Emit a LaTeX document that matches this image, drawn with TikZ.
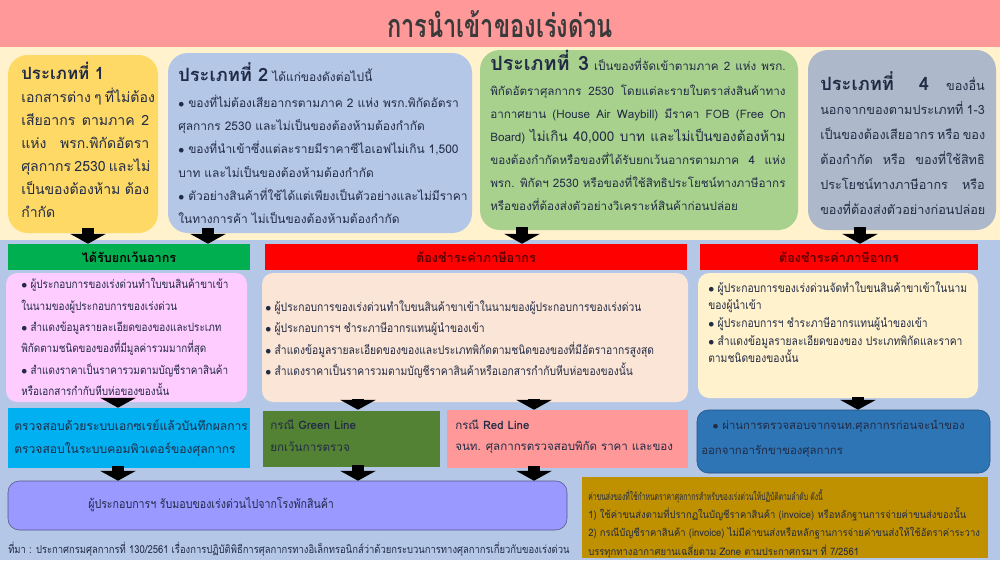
\documentclass[tikz,border=0pt]{standalone}
\usepackage{fontspec}
\newfontfamily\thai[Script=Thai]{Loma}
\newfontfamily\thaic[Script=Thai,FakeStretch=0.86]{Loma}
\newfontfamily\thaib[Script=Thai,FakeStretch=0.92]{Loma}
\newfontfamily\thaicc[Script=Thai,FakeStretch=0.66]{Loma}
\newfontfamily\thaiT[Script=Thai,FakeStretch=0.73]{Loma}
\usetikzlibrary{arrows.meta,fit,calc}
\definecolor{titlebg}{HTML}{FF9999}
\definecolor{creambg}{HTML}{FFF2CC}
\definecolor{bluebg}{HTML}{B4C7E7}
\definecolor{cyel}{HTML}{FFD966}
\definecolor{cblu}{HTML}{B4C7E7}
\definecolor{cgrn}{HTML}{A9D18E}
\definecolor{cgry}{HTML}{ADB9CA}
\definecolor{hgrn}{HTML}{00B050}
\definecolor{hred}{HTML}{FF0000}
\definecolor{cpink}{HTML}{FFCCFF}
\definecolor{cpeach}{HTML}{FBE5D6}
\definecolor{ccream}{HTML}{FFF2CC}
\definecolor{ccyan}{HTML}{00B0F0}
\definecolor{cgline}{HTML}{548235}
\definecolor{crline}{HTML}{FF9999}
\definecolor{cdblue}{HTML}{2E75B6}
\definecolor{clav}{HTML}{9999FF}
\definecolor{cgold}{HTML}{BF9000}
\definecolor{txt}{HTML}{222B45}
\definecolor{ttl}{HTML}{3A3A3A}
\definecolor{hdred}{HTML}{5A0000}
\newcommand\fs[2]{\fontsize{#1}{#2}\selectfont}
\newcommand\bul{$\bullet$\ }
\newcommand\jl[2]{\makebox[#1][s]{#2}}
\lineskiplimit=-100pt
\begin{document}
\begin{tikzpicture}[x=0.025cm,y=-0.025cm,
  box/.style={inner sep=0pt},
  tx/.style={inner sep=0pt, align=left, anchor=north west, text=txt},
  rbig/.style={rounded corners=14pt},
  rsml/.style={rounded corners=8pt},
  hdr/.style={inner sep=0pt, anchor=base, font=\thai\bfseries\fs{9}{11}},
  blk/.style={line width=8.5pt, -{Triangle[width=25pt,length=7pt]}, black}]
\useasboundingbox (0,0) rectangle (1000,560);
% backgrounds
\fill[titlebg] (0,0) rectangle (1000,47);
\fill[creambg] (0,47) rectangle (1000,240);
\fill[bluebg] (0,240) rectangle (1000,560);
\node[font=\thaiT\bfseries\fs{23}{26}, text=ttl] (title) at (500,24) {การนำเข้าของเร่งด่วน};
% top boxes
\node[box, rbig, fill=cyel, fit={(8,55)(158,233)}] (t1) {};
\node[box, rbig, fill=cblu, fit={(168,53)(472,233)}] (t2) {};
\node[box, rbig, fill=cgrn, fit={(480,50)(798,230)}] (t3) {};
\node[box, rbig, fill=cgry, fit={(808,50)(996,230)}] (t4) {};
\node[tx, font=\thai\fs{10}{16.3}] (t1x) at (21,62)
 {{\fs{12}{16.3}\bfseries ประเภทที่ 1}\\\jl{91pt}{เอกสารต่าง ๆ ที่ไม่ต้อง}\\\jl{91pt}{เสียอากร ตามภาค 2}\\\jl{91pt}{แห่ง พรก.พิกัดอัตรา}\\\jl{91pt}{ศุลกากร 2530 และไม่}\\\jl{91pt}{เป็นของต้องห้าม ต้อง}\\กำกัด};
\node[tx, font=\thai\fs{8.5}{16.6}] (t2x) at (178,62)
 {{\fs{13}{16.6}\bfseries ประเภทที่ 2} ได้แก่ของดังต่อไปนี้\\[2pt]\bul ของที่ไม่ต้องเสียอากรตามภาค 2 แห่ง พรก.พิกัดอัตรา\\ศุลกากร 2530 และไม่เป็นของต้องห้ามต้องกำกัด\\\bul ของที่นำเข้าซึ่งแต่ละรายมีราคาซีไอเอฟไม่เกิน 1,500\\บาท และไม่เป็นของต้องห้ามต้องกำกัด\\\bul ตัวอย่างสินค้าที่ใช้ได้แต่เพียงเป็นตัวอย่างและไม่มีราคา\\ในทางการค้า ไม่เป็นของต้องห้ามต้องกำกัด};
\node[tx, font=\thai\fs{8.3}{16.3}] (t3x) at (490,50)
 {\jl{210pt}{{\fs{14}{16.3}\bfseries ประเภทที่ 3} เป็นของที่จัดเข้าตามภาค 2 แห่ง พรก.}\\[1.5pt]\jl{210pt}{พิกัดอัตราศุลกากร 2530 โดยแต่ละรายใบตราส่งสินค้าทาง}\\\jl{210pt}{อากาศยาน (House Air Waybill) มีราคา FOB (Free On}\\\jl{210pt}{Board) {\fs{9.6}{16.3}ไม่เกิน 40,000 บาท และไม่เป็นของต้องห้าม}}\\\jl{210pt}{ของต้องกำกัดหรือของที่ได้รับยกเว้นอากรตามภาค 4 แห่ง}\\\jl{210pt}{พรก. พิกัดฯ 2530 หรือของที่ใช้สิทธิประโยชน์ทางภาษีอากร}\\หรือของที่ต้องส่งตัวอย่างวิเคราะห์สินค้าก่อนปล่อย};
\node[tx, font=\thai\fs{9}{17.7}] (t4x) at (820,71)
 {\jl{117pt}{{\fs{13}{17.7}\bfseries ประเภทที่ 4} ของอื่น}\\\jl{117pt}{นอกจากของตามประเภทที่ 1-3}\\\jl{117pt}{เป็นของต้องเสียอากร หรือ ของ}\\\jl{117pt}{ต้องกำกัด หรือ ของที่ใช้สิทธิ}\\\jl{117pt}{ประโยชน์ทางภาษีอากร หรือ}\\ของที่ต้องส่งตัวอย่างก่อนปล่อย};
% headers
\node[box, fill=hgrn, fit={(8,244)(250,270)}] (h1) {};
\node[box, fill=hred, fit={(265,244)(687,270)}] (h2) {};
\node[box, fill=hred, fit={(700,244)(978,270)}] (h3) {};
\node[hdr, text=black] (h1x) at (129,262) {ได้รับยกเว้นอากร};
\node[hdr, text=hdred] (h2x) at (476,262) {ต้องชำระค่าภาษีอากร};
\node[hdr, text=hdred] (h3x) at (839,262) {ต้องชำระค่าภาษีอากร};
% middle boxes
\node[box, rsml, fill=cpink, fit={(6,273)(247,402)}] (m1) {};
\node[box, rsml, fill=cpeach, fit={(262,273)(688,402)}] (m2) {};
\node[box, rsml, fill=ccream, fit={(698,273)(978,398)}] (m3) {};
\node[tx, font=\thaic\fs{8.2}{15.2}] (m1x) at (21,278)
 {\bul ผู้ประกอบการของเร่งด่วนทำใบขนสินค้าขาเข้า\\ในนามของผู้ประกอบการของเร่งด่วน\\\bul สำแดงข้อมูลรายละเอียดของของและประเภท\\พิกัดตามชนิดของของที่มีมูลค่ารวมมากที่สุด\\\bul สำแดงราคาเป็นราคารวมตามบัญชีราคาสินค้า\\หรือเอกสารกำกับหีบห่อของของนั้น};
\node[tx, font=\thaic\fs{8.5}{15.4}] (m2x) at (265,300)
 {\bul ผู้ประกอบการของเร่งด่วนทำใบขนสินค้าขาเข้าในนามของผู้ประกอบการของเร่งด่วน\\\bul ผู้ประกอบการฯ ชำระภาษีอากรแทนผู้นำของเข้า\\\bul สำแดงข้อมูลรายละเอียดของของและประเภทพิกัดตามชนิดของของที่มีอัตราอากรสูงสุด\\\bul สำแดงราคาเป็นราคารวมตามบัญชีราคาสินค้าหรือเอกสารกำกับหีบห่อของของนั้น};
\node[tx, font=\thaic\fs{8.5}{12.6}] (m3x) at (708,281)
 {\bul ผู้ประกอบการของเร่งด่วนจัดทำใบขนสินค้าขาเข้าในนาม\\ของผู้นำเข้า\\\bul ผู้ประกอบการฯ ชำระภาษีอากรแทนผู้นำของเข้า\\\bul สำแดงข้อมูลรายละเอียดของของ ประเภทพิกัดและราคา\\ตามชนิดของของนั้น};
% lower boxes
\node[box, fill=ccyan, fit={(8,408)(250,468)}] (l1) {};
\node[box, fill=cgline, draw=cblu, fit={(262,410)(440,467)}] (l2) {};
\node[box, fill=crline, fit={(447,410)(688,468)}] (l3) {};
\node[box, rsml, fill=cdblue, draw=cdblue!70!black, fit={(697,410)(990,473)}] (l4) {};
\node[tx, font=\thai\fs{8.6}{16.3}] (l1x) at (14,420)
 {ตรวจสอบด้วยระบบเอกซเรย์แล้วบันทึกผลการ\\ตรวจสอบในระบบคอมพิวเตอร์ของศุลกากร};
\node[tx, font=\thai\fs{8.3}{15.6}] (l2x) at (270,419)
 {กรณี {\bfseries Green Line}\\ยกเว้นการตรวจ};
\node[tx, font=\thai\fs{8.2}{15.6}] (l3x) at (455,419)
 {กรณี {\bfseries Red Line}\\จนท. ศุลกากรตรวจสอบพิกัด ราคา และของ};
\node[tx, font=\thai\fs{8.1}{17.7}] (l4x) at (701,420)
 {\hspace*{8pt}\bul ผ่านการตรวจสอบจากจนท.ศุลกากรก่อนจะนำของ\\ออกจากอารักขาของศุลกากร};
\node[box, rsml, fill=clav, draw=clav!55!black, fit={(8,481)(567,530)}] (b1) {};
\node[tx, anchor=west, font=\thaic\fs{8.8}{12}] (b1x) at (88,505)
 {ผู้ประกอบการฯ รับมอบของเร่งด่วนไปจากโรงพักสินค้า};
\node[box, fill=cgold, fit={(582,477)(988,558)}] (b2) {};
\node[tx, font=\thaib\fs{7.3}{13}] (b2x) at (588,489)
 {{\thaicc ค่าขนส่งของที่ใช้กำหนดราคาศุลกากรสำหรับของเร่งด่วนให้ปฏิบัติตามลำดับ ดังนี้}\\1) ใช้ค่าขนส่งตามที่ปรากฏในบัญชีราคาสินค้า (invoice) หรือหลักฐานการจ่ายค่าขนส่งของนั้น\\2) กรณีบัญชีราคาสินค้า (invoice) ไม่มีค่าขนส่งหรือหลักฐานการจ่ายค่าขนส่งให้ใช้อัตราค่าระวาง\\บรรทุกทางอากาศยานเฉลี่ยตาม Zone ตามประกาศกรมฯ ที่ 7/2561};
\node[tx, anchor=west, font=\thaic\fs{7.8}{9}] (src) at (8,549)
 {ที่มา : ประกาศกรมศุลกากรที่ 130/2561 เรื่องการปฏิบัติพิธีการศุลกากรทางอิเล็กทรอนิกส์ว่าด้วยกระบวนการทางศุลกากรเกี่ยวกับของเร่งด่วน};
% arrow x positions
\coordinate (a1) at (88,0);
\coordinate (a2) at (208,0);
\coordinate (a3) at (522,0);
\coordinate (a4) at (860,0);
\coordinate (a5) at (118,0);
\coordinate (a6) at (358,0);
\coordinate (a7) at (534,0);
\coordinate (a8) at (858,0);
% arrows
\draw[blk] ($(t1.south -| a1)+(0,-5)$) -- (h1.north -| a1);
\draw[blk] ($(t2.south -| a2)+(0,-5)$) -- (h1.north -| a2);
\draw[blk] ($(t3.south -| a3)+(0,-3)$) -- (h2.north -| a3);
\draw[blk] ($(t4.south -| a4)+(0,-3)$) -- (h3.north -| a4);
\draw[blk] ($(m1.south -| a5)+(0,-4)$) -- (l1.north -| a5);
\draw[blk] ($(m2.south -| a6)+(0,-3)$) -- (l2.north -| a6);
\draw[blk] ($(m2.south -| a7)+(0,-3)$) -- (l3.north -| a7);
\draw[blk] ($(m3.south -| a8)+(0,-1)$) -- (l4.north -| a8);
\draw[blk] ($(l1.south -| a5)+(0,-2)$) -- (b1.north -| a5);
\draw[blk] ($(l2.south -| a6)+(0,-2)$) -- (b1.north -| a6);
\draw[blk] ($(l3.south -| a7)+(0,-2)$) -- (b1.north -| a7);
\end{tikzpicture}
\end{document}
